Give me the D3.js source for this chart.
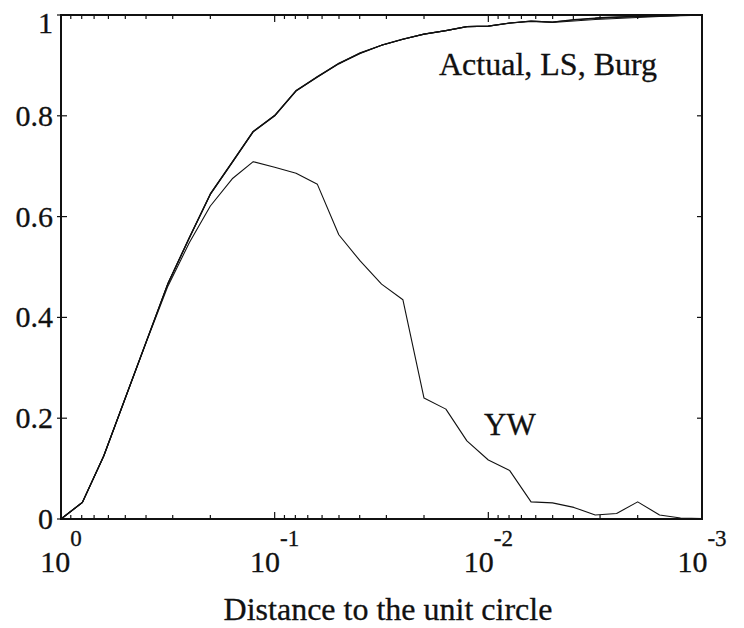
<!DOCTYPE html>
<html><head><meta charset="utf-8">
<script src="https://cdn.jsdelivr.net/npm/d3@7/dist/d3.min.js"></script>
<style>body{margin:0;background:#fff}</style>
</head><body><svg id="c" width="744" height="628"></svg>
<script>
// distance to the unit circle (x), 31 points
const distance = [1, 0.794, 0.631, 0.501, 0.398, 0.316, 0.251, 0.2, 0.158, 0.126, 0.1,
  0.0794, 0.0631, 0.0501, 0.0398, 0.0316, 0.0251, 0.02, 0.0158, 0.0126, 0.01,
  0.00794, 0.00631, 0.00501, 0.00398, 0.00316, 0.00251, 0.002, 0.00158, 0.00126, 0.001];
const actual = [0.0, 0.033, 0.125, 0.239, 0.353, 0.467, 0.558, 0.645, 0.708, 0.769, 0.800,
  0.850, 0.877, 0.904, 0.924, 0.940, 0.952, 0.962, 0.969, 0.977, 0.978,
  0.984, 0.988, 0.986, 0.991, 0.994, 0.996, 0.997, 0.998, 0.999, 1.0];
const ls = [0.0, 0.033, 0.125, 0.239, 0.353, 0.467, 0.557, 0.644, 0.707, 0.768, 0.800,
  0.849, 0.877, 0.903, 0.924, 0.940, 0.952, 0.962, 0.969, 0.977, 0.978,
  0.984, 0.987, 0.985, 0.988, 0.991, 0.993, 0.995, 0.997, 0.999, 1.0];
const burg = [0.0, 0.033, 0.125, 0.239, 0.353, 0.467, 0.558, 0.645, 0.708, 0.769, 0.801,
  0.850, 0.878, 0.904, 0.925, 0.940, 0.952, 0.962, 0.969, 0.977, 0.978,
  0.984, 0.988, 0.986, 0.990, 0.993, 0.995, 0.997, 0.998, 0.999, 1.0];
const yw = [0.0, 0.033, 0.125, 0.239, 0.352, 0.462, 0.548, 0.621, 0.675, 0.709, 0.698,
  0.686, 0.664, 0.564, 0.512, 0.466, 0.435, 0.240, 0.218, 0.155, 0.117,
  0.096, 0.034, 0.032, 0.023, 0.008, 0.011, 0.034, 0.008, 0.002, 0.001];
const xTicks = [1, 0.1, 0.01, 0.001];
const xTickExp = ["0", "-1", "-2", "-3"];
const yTicks = [0, 0.2, 0.4, 0.6, 0.8, 1];
const yTickLabels = ["0", "0.2", "0.4", "0.6", "0.8", "1"];
const xTitle = "Distance to the unit circle";
const labelMain = "Actual, LS, Burg";
const labelYW = "YW";

const FONT = "Liberation Serif";
const L = 61, R = 702, T = 15, B = 519;
const svg = d3.select("#c");
const x = d3.scaleLog().domain([1, 0.001]).range([L, R]);
const y = d3.scaleLinear().domain([0, 1]).range([B, T]);

const minor = [];
[1, 0.1, 0.01].forEach(dec => { for (let m = 2; m <= 9; m++) minor.push(dec * m / 10); });

const g = svg.append("g");
const tick = (data, x1, x2, y1, y2) => g.append("g").selectAll("line").data(data).join("line")
  .attr("x1", x1).attr("x2", x2).attr("y1", y1).attr("y2", y2)
  .attr("stroke", "#111").attr("stroke-width", 1.2);
tick(minor, d => x(d), d => x(d), B, B - 4);
tick(xTicks, d => x(d), d => x(d), B, B - 7);
tick(minor, d => x(d), d => x(d), T, T + 4);
tick(xTicks, d => x(d), d => x(d), T, T + 7);
tick(yTicks, L - 4, L + 6, d => y(d), d => y(d));
tick(yTicks, R, R - 5, d => y(d), d => y(d));

g.append("rect").attr("x", L).attr("y", T).attr("width", R - L).attr("height", B - T)
  .attr("fill", "none").attr("stroke", "#111").attr("stroke-width", 2);

g.append("g").selectAll("text").data(yTicks).join("text")
  .attr("x", L - 8).attr("y", d => Math.max(y(d) + 10, 33))
  .attr("text-anchor", "end").attr("font-size", 30).attr("font-family", FONT).attr("fill", "#111")
  .attr("stroke", "#111").attr("stroke-width", 0.3)
  .text((d, i) => yTickLabels[i]);

const xl = g.append("g").selectAll("text").data(xTicks).join("text")
  .attr("x", d => x(d)).attr("y", 572).attr("text-anchor", "middle")
  .attr("font-size", 30).attr("font-family", FONT).attr("fill", "#111")
  .attr("stroke", "#111").attr("stroke-width", 0.3);
xl.append("tspan").text("10");
xl.append("tspan").attr("dy", -26).attr("font-size", 23).text((d, i) => xTickExp[i]);

g.append("text").attr("x", 388).attr("y", 620).attr("text-anchor", "middle")
  .attr("font-size", 32).attr("font-family", FONT).attr("fill", "#111")
  .attr("stroke", "#111").attr("stroke-width", 0.3).text(xTitle);

const line = arr => d3.line().x((d, i) => x(distance[i])).y(d => y(d))(arr);
[[actual, 1.3], [ls, 1.1], [burg, 1.1]].forEach(([arr, w]) => {
  g.append("path").attr("d", line(arr)).attr("fill", "none").attr("stroke", "#111")
    .attr("stroke-width", w).attr("stroke-linejoin", "round");
});
g.append("path").attr("d", line(yw)).attr("fill", "none").attr("stroke", "#111")
  .attr("stroke-width", 1.1).attr("stroke-linejoin", "round");

g.append("text").attr("x", 439).attr("y", 75).attr("font-size", 32)
  .attr("font-family", FONT).attr("fill", "#111").attr("stroke", "#111").attr("stroke-width", 0.3)
  .text(labelMain);
g.append("text").attr("x", 484).attr("y", 435).attr("font-size", 31)
  .attr("font-family", FONT).attr("fill", "#111").attr("stroke", "#111").attr("stroke-width", 0.3)
  .text(labelYW);
</script></body></html>
